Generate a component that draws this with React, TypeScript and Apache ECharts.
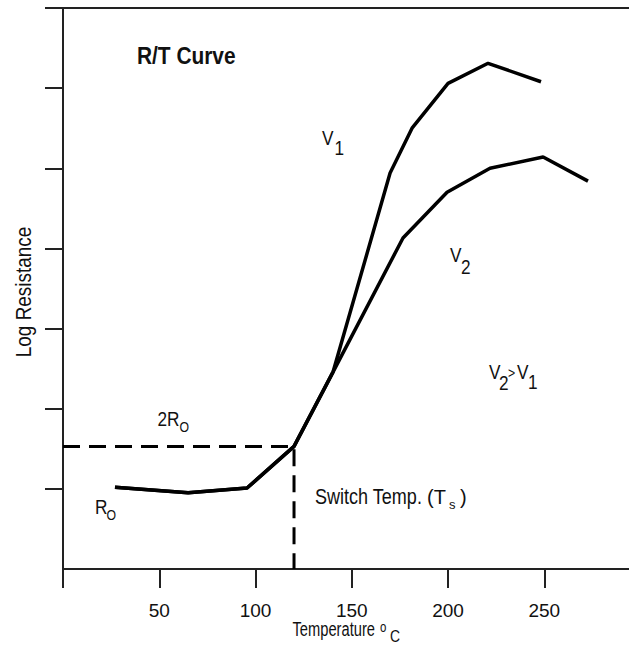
import React, { useEffect, useRef } from 'react';
import * as echarts from 'echarts';

// ---- data ----
const xTickValues = [0, 50, 100, 150, 200, 250];
const xLabelValues = [50, 100, 150, 200, 250];
const yTickValues = [1, 2, 3, 4, 5, 6, 7];

// shared low-temperature part of both curves
const commonTemp = [27, 65, 95.6, 120, 140.3];
const commonLogR = [1.02, 0.95, 1.01, 1.53, 2.46];
// V1 branch
const v1Temp = [169.9, 181.3, 200, 220.8, 248.3];
const v1LogR = [4.94, 5.5, 6.06, 6.31, 6.08];
// V2 branch
const v2Temp = [176.6, 199.5, 221.8, 249.4, 272.7];
const v2LogR = [4.13, 4.7, 5.0, 5.14, 4.84];

const switchTemp = 120;
const twoR0 = 1.53;

const SANS = "'Liberation Sans', Arial, sans-serif";
const INK = '#111';
const NARROW_SCALE = 0.82;

function pairs(xs: number[], ys: number[]) {
  return xs.map((x, i) => [x, ys[i]]);
}

function txt(text: string, x: number, y: number, fontSize: number, opts: any = {}) {
  return {
    type: 'text',
    x,
    y,
    rotation: opts.rotation || 0,
    scaleX: opts.scaleX !== undefined ? opts.scaleX : NARROW_SCALE,
    silent: true,
    style: {
      text,
      fontSize,
      fontFamily: SANS,
      fontWeight: opts.fontWeight || 'normal',
      fill: INK,
      align: opts.align || 'left',
      verticalAlign: 'middle',
      textAlign: opts.align || 'left',
      textVerticalAlign: 'middle',
    },
  };
}

export default function App() {
  const ref = useRef<HTMLDivElement>(null);

  useEffect(() => {
    if (!ref.current) return;
    const chart = echarts.init(ref.current, undefined, { renderer: 'svg' });

    const common = pairs(commonTemp, commonLogR);
    const lineStyle = { color: '#000', width: 3.5 };

    chart.setOption({
      animation: false,
      backgroundColor: '#fff',
      grid: { left: 63, top: 8, right: 0, bottom: 85, containLabel: false },
      xAxis: [
        {
          type: 'value',
          min: 0,
          max: 294,
          interval: 50,
          axisLine: { show: true, lineStyle: { color: '#222', width: 2 } },
          axisTick: {
            show: true,
            length: 19,
            lineStyle: { color: '#222', width: 2 },
            customValues: xTickValues,
          },
          axisLabel: {
            show: true,
            customValues: xLabelValues,
            margin: 32,
            fontSize: 19,
            fontFamily: SANS,
            color: INK,
          },
          splitLine: { show: false },
        },
        {
          type: 'value',
          position: 'top',
          min: 0,
          max: 294,
          axisLine: { show: true, onZero: false, lineStyle: { color: '#222', width: 2 } },
          axisTick: { show: false },
          axisLabel: { show: false },
          splitLine: { show: false },
        },
      ],
      yAxis: {
        type: 'value',
        min: 0,
        max: 7,
        interval: 1,
        axisLine: { show: true, lineStyle: { color: '#222', width: 2 } },
        axisTick: {
          show: true,
          length: 18,
          lineStyle: { color: '#222', width: 2 },
          customValues: yTickValues,
        },
        axisLabel: { show: false },
        splitLine: { show: false },
      },
      series: [
        {
          name: 'V1',
          type: 'line',
          data: [...common, ...pairs(v1Temp, v1LogR)],
          showSymbol: false,
          symbol: 'none',
          lineStyle,
          silent: true,
        },
        {
          name: 'V2',
          type: 'line',
          data: [...common, ...pairs(v2Temp, v2LogR)],
          showSymbol: false,
          symbol: 'none',
          lineStyle,
          silent: true,
        },
        {
          name: 'Switch',
          type: 'line',
          data: [
            [0, twoR0],
            [switchTemp, twoR0],
            [switchTemp, 0],
          ],
          showSymbol: false,
          symbol: 'none',
          lineStyle: { color: '#000', width: 3, type: [17, 9] },
          silent: true,
        },
      ],
      graphic: [
        txt('R/T Curve', 137, 56, 24, { fontWeight: 'bold', scaleX: 0.87 }),
        txt('V', 322, 137.5, 21),
        txt('1', 334.5, 147.5, 21),
        txt('V', 450, 255, 21),
        txt('2', 461, 266.5, 21),
        txt('V', 489, 371.5, 21),
        txt('2', 499, 383, 21),
        txt('>', 508, 373, 15),
        txt('V', 517, 371.5, 21),
        txt('1', 528, 381.5, 21),
        txt('Switch Temp.', 315, 496.5, 22),
        txt('(T', 427, 497, 20, { scaleX: 1 }),
        txt('s', 449, 504, 13, { scaleX: 1 }),
        txt(')', 460, 497, 20, { scaleX: 1 }),
        txt('2R', 157.5, 418.5, 21),
        txt('O', 179.5, 427.5, 15),
        txt('R', 95, 506.5, 21),
        txt('O', 106.5, 515, 15),
        txt('Temperature', 292.5, 629.5, 21, { scaleX: 0.7 }),
        txt('o', 380, 627, 14),
        txt('C', 390, 636, 17),
        txt('Log Resistance', 23, 292, 22, { rotation: Math.PI / 2, align: 'center', scaleX: 0.86 }),
      ],
    });

    return () => chart.dispose();
  }, []);

  return (
    <div
      ref={ref}
      style={{ position: 'absolute', left: 0, top: 0, width: 629, height: 654, background: '#fff' }}
    />
  );
}
